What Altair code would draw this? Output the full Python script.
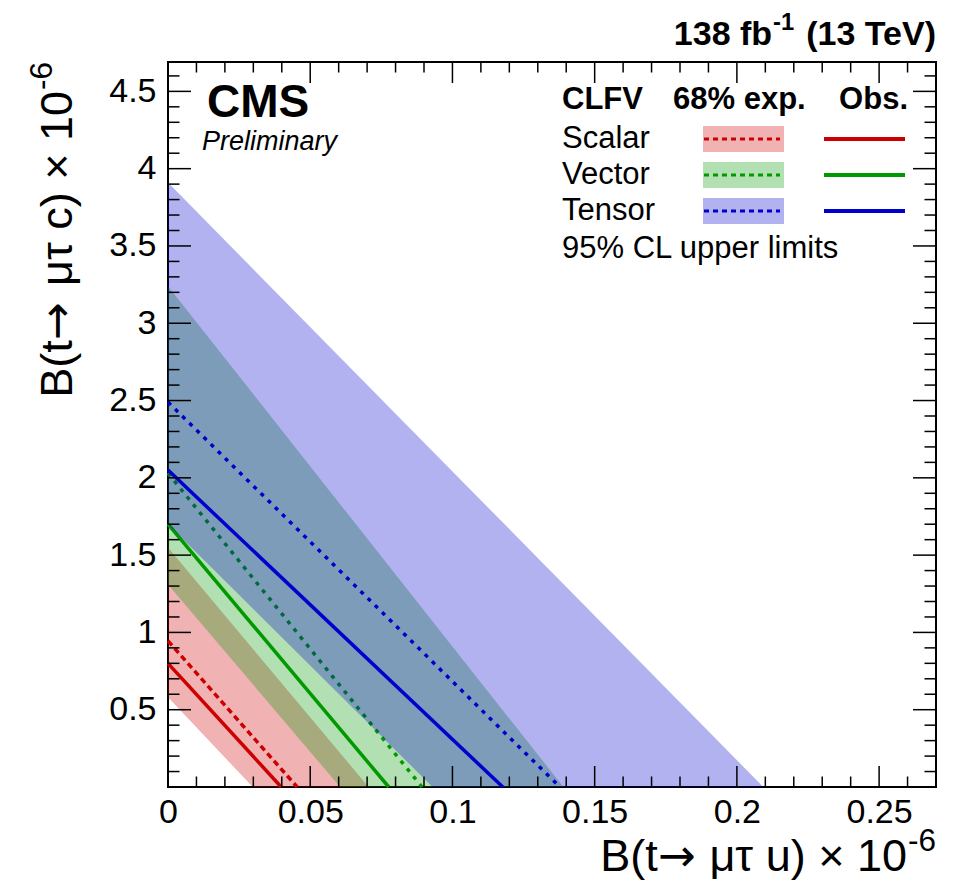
import altair as alt
import pandas as pd

# ---------------- data (units of 1e-6) ----------------
models = ["Scalar", "Vector", "Tensor"]
colors = ["#cc0000", "#009900", "#0000cc"]
# each limit is a straight line from (0, B_c) to (B_u, 0)
obs_c = [0.80, 1.70, 2.05]
obs_u = [0.0398, 0.0776, 0.1177]
exp_c = [0.945, 2.03, 2.49]
exp_u = [0.0454, 0.0893, 0.1378]
band_lo_c = [0.58, 1.31, 1.70]
band_lo_u = [0.0298, 0.0605, 0.0930]
band_hi_c = [1.55, 3.24, 3.91]
band_hi_u = [0.0705, 0.1390, 0.2093]
exp_dash = [[6, 4], [4, 6], [4, 6]]

x_ticks = [0, 0.05, 0.1, 0.15, 0.2, 0.25]
y_ticks = [0.5, 1, 1.5, 2, 2.5, 3, 3.5, 4, 4.5]
x_minor = [i / 100 for i in range(1, 28) if i % 5 != 0]
y_minor = [i / 10 for i in range(1, 47) if i % 5 != 0]
x_domain = [0, 0.27]
y_domain = [0, 4.69]

W, H = 768, 725
FONT = "Liberation Sans"
ARROW_FONT = "DejaVu Sans"

xs = alt.Scale(domain=x_domain, nice=False, zero=False)
ys = alt.Scale(domain=y_domain, nice=False, zero=False)
xaxis = alt.Axis(values=x_ticks, format="~g", labelFont=FONT, labelFontSize=34,
                 labelColor="black", ticks=False, domain=False, grid=False,
                 labelPadding=8, labelFlush=False, labelOverlap=False)
yaxis = alt.Axis(values=y_ticks, format="~g", labelFont=FONT, labelFontSize=34,
                 labelColor="black", ticks=False, domain=False, grid=False,
                 labelPadding=12, labelFlush=False, labelOverlap=False)


def X(f):
    return alt.X(f, type="quantitative", scale=xs, axis=xaxis, title=None)


def Y(f):
    return alt.Y(f, type="quantitative", scale=ys, axis=yaxis, title=None)


layers = []
for i, m in enumerate(models):
    # 68% expected band: polygon between lower and upper lines
    lo_c, lo_u, hi_c, hi_u = band_lo_c[i], band_lo_u[i], band_hi_c[i], band_hi_u[i]
    band = pd.DataFrame({
        "x": [0, lo_u, hi_u],
        "top": [hi_c, hi_c * (1 - lo_u / hi_u), 0],
        "bot": [lo_c, 0, 0],
    })
    layers.append(alt.Chart(band).mark_area(color=colors[i], opacity=0.3, clip=True)
                  .encode(x=X("x"), y=Y("top"), y2="bot"))
    ex = pd.DataFrame({"x": [0, exp_u[i]], "y": [exp_c[i], 0]})
    layers.append(alt.Chart(ex).mark_line(color=colors[i], strokeWidth=3.5,
                                          strokeDash=exp_dash[i])
                  .encode(x=X("x"), y=Y("y")))
    ob = pd.DataFrame({"x": [0, obs_u[i]], "y": [obs_c[i], 0]})
    layers.append(alt.Chart(ob).mark_line(color=colors[i], strokeWidth=3.5)
                  .encode(x=X("x"), y=Y("y")))


# inward ticks on all four sides
def xt(vals, L):
    d = pd.DataFrame({"v": vals})
    a = alt.Chart(d).mark_rule(color="black", strokeWidth=1.5).encode(
        x=X("v"), y=alt.value(H), y2=alt.value(H - L))
    b = alt.Chart(d).mark_rule(color="black", strokeWidth=1.5).encode(
        x=X("v"), y=alt.value(0), y2=alt.value(L))
    return [a, b]


def yt(vals, L):
    d = pd.DataFrame({"v": vals})
    a = alt.Chart(d).mark_rule(color="black", strokeWidth=1.5).encode(
        y=Y("v"), x=alt.value(0), x2=alt.value(L))
    b = alt.Chart(d).mark_rule(color="black", strokeWidth=1.5).encode(
        y=Y("v"), x=alt.value(W), x2=alt.value(W - L))
    return [a, b]


layers += xt(x_ticks, 21) + xt(x_minor, 10.5) + yt(y_ticks, 23) + yt(y_minor, 11.5)


def txt(s, x, y, size, weight="normal", style="normal", align="left", angle=0, font=FONT):
    return alt.Chart(pd.DataFrame({"t": [s]})).mark_text(
        align=align, baseline="alphabetic", font=font, fontSize=size,
        fontWeight=weight, fontStyle=style, angle=angle, color="black"
    ).encode(x=alt.value(x), y=alt.value(y), text="t:N")


def box(x1, x2, y1, y2, color, op):
    return alt.Chart(pd.DataFrame({"a": [0]})).mark_rect(color=color, opacity=op).encode(
        x=alt.value(x1), x2=alt.value(x2), y=alt.value(y1), y2=alt.value(y2))


def seg(x1, x2, y, color, dash=None, width=3.5):
    kw = dict(color=color, strokeWidth=width)
    if dash:
        kw["strokeDash"] = dash
    return alt.Chart(pd.DataFrame({"a": [0]})).mark_rule(**kw).encode(
        x=alt.value(x1), x2=alt.value(x2), y=alt.value(y))


# CMS labels
layers.append(txt("CMS", 39, 55, 46, weight="bold"))
layers.append(txt("Preliminary", 34, 88, 27, style="italic"))

# luminosity label (right aligned pieces, widths in em of Arial-metric bold)
LS = 34
w_tev = 3.89 * LS
w_sp = 0.278 * LS
w_sup = 0.889 * 0.7 * LS
lb = -17
layers.append(txt("(13 TeV)", W, lb, LS, weight="bold", align="right"))
layers.append(txt("-1", W - w_tev - w_sp, lb - 15, 0.7 * LS, weight="bold", align="right"))
layers.append(txt("138 fb", W - w_tev - w_sp - w_sup - 1, lb, LS, weight="bold", align="right"))

# axis titles: "B(t" + arrow + " mu tau q) x 10" + superscript "-6"
TS = 45
w_sup6 = 0.889 * 0.7 * TS
w_mid = 4.70 * TS
w_arrow = 0.838 * TS


def title_pieces(q):
    return ["B(t", "\u2192", " \u03bc\u03c4 " + q + ") \u00d7 10", "-6"]


# x title (right-aligned chain ending at the frame's right edge)
xb = 809
pa, pr, pm, ps = title_pieces("u")
layers.append(txt(ps, W, xb - 20, 0.7 * TS, align="right"))
xm = W - w_sup6 - 1
layers.append(txt(pm, xm, xb, TS, align="right"))
layers.append(txt(pr, xm - w_mid, xb, TS, align="right", font=ARROW_FONT))
layers.append(txt(pa, xm - w_mid - w_arrow, xb, TS, align="right"))

# y title (rotated, end of text at the frame's top)
yb = -96
pa, pr, pm, ps = title_pieces("c")
layers.append(txt(ps, yb - 20, 0, 0.7 * TS, align="right", angle=270))
ym = w_sup6 + 1
layers.append(txt(pm, yb, ym, TS, align="right", angle=270))
layers.append(txt(pr, yb, ym + w_mid, TS, align="right", angle=270, font=ARROW_FONT))
layers.append(txt(pa, yb, ym + w_mid + w_arrow, TS, align="right", angle=270))

# legend
layers.append(txt("CLFV", 394, 47, 31, weight="bold"))
layers.append(txt("68% exp.", 505, 47, 31, weight="bold"))
layers.append(txt("Obs.", 740, 47, 31, weight="bold", align="right"))
row_y = [77, 113, 149]
for i, m in enumerate(models):
    cy = row_y[i]
    layers.append(txt(m, 394, cy + 9, 31))
    layers.append(box(535, 616, cy - 13, cy + 13, colors[i], 0.3))
    layers.append(seg(536, 612, cy, colors[i], [5, 4], 3))
    layers.append(seg(656, 737, cy, colors[i], None, 4))
layers.append(txt("95% CL upper limits", 394, 196, 31))

chart = alt.layer(*layers).properties(
    width=W, height=H, autosize="none",
    padding={"left": 160, "top": 54, "right": 10, "bottom": 95},
).configure_view(stroke="black", strokeWidth=2)

chart.save("out.html", embed_options={"renderer": "svg", "actions": False})
